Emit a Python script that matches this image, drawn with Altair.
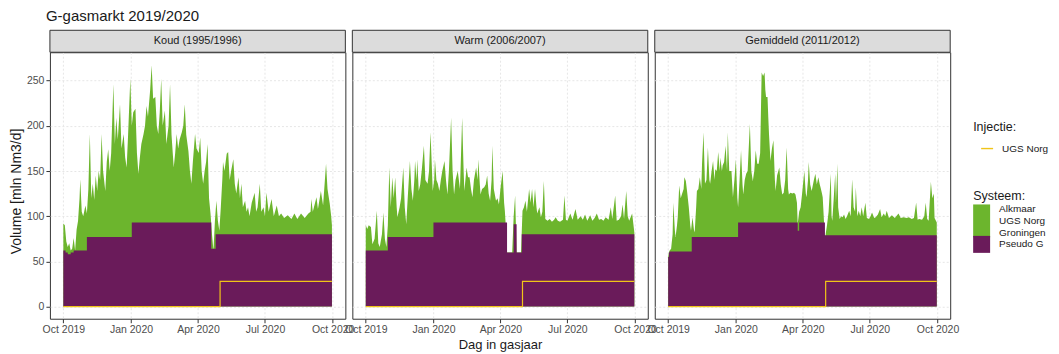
import altair as alt
import pandas as pd

START = pd.Timestamp("2019-10-01")

SCENARIOS = ["Koud (1995/1996)", "Warm (2006/2007)", "Gemiddeld (2011/2012)"]
SYS_GREEN = "Alkmaar UGS Norg Groningen"
SYS_PURPLE = "Pseudo G"
INJ_NAME = "UGS Norg"

GREEN = "#6cb52d"
PURPLE = "#6a1b5a"
YELLOW = "#f0c419"

# (day in gasjaar, volume mln Nm3/d) -- total of all systems (top of green)
KOUD_TOTAL = [
    (0, 92), (2, 90), (4, 72), (6, 66), (8, 70), (10, 62), (12, 64), (14, 76), (16, 62), (18, 85),
    (20, 95), (22, 120), (23, 141), (25, 105), (27, 100), (30, 112), (32, 103), (34, 130), (36, 191),
    (38, 120), (40, 136), (42, 118), (44, 145), (46, 128), (48, 150), (50, 140), (52, 191), (54, 150),
    (57, 128), (59, 160), (61, 174), (63, 150), (65, 170), (68, 246), (70, 180), (72, 209), (74, 185),
    (77, 224), (79, 175), (82, 191), (84, 165), (86, 154), (88, 190), (91, 252), (93, 200), (95, 215),
    (98, 219), (100, 170), (102, 147), (104, 165), (106, 180), (109, 191), (111, 200), (113, 222),
    (115, 210), (118, 240), (120, 267), (122, 230), (125, 232), (127, 200), (129, 191), (131, 215),
    (133, 252), (135, 200), (138, 217), (140, 180), (143, 200), (145, 246), (147, 190), (150, 154),
    (152, 170), (154, 191), (156, 175), (158, 185), (161, 193), (163, 200), (165, 224), (167, 190),
    (170, 172), (172, 150), (174, 136), (176, 160), (179, 191), (181, 175), (184, 170), (186, 187),
    (188, 150), (190, 136), (192, 150), (194, 160), (196, 180), (198, 120), (200, 103), (202, 80),
    (204, 62), (206, 95), (208, 117), (210, 95), (212, 84), (214, 110), (216, 140), (217, 160),
    (219, 150), (222, 169), (224, 171), (226, 140), (228, 150), (231, 163), (233, 136), (235, 125),
    (238, 143), (240, 120), (242, 136), (244, 110), (247, 117), (249, 105), (251, 110), (253, 100),
    (256, 115), (260, 126), (262, 105), (264, 110), (267, 136), (269, 105), (272, 110), (274, 100),
    (276, 126), (279, 105), (283, 119), (286, 100), (290, 112), (293, 100), (296, 103), (300, 98),
    (305, 101), (310, 97), (314, 103), (318, 97), (323, 103), (328, 98), (333, 103), (336, 105),
    (337, 119), (339, 105), (344, 121), (346, 108), (350, 128), (353, 112), (357, 158), (359, 130),
    (362, 114), (364, 100), (365, 90),
]
KOUD_PSEUDO = [(0, 62), (3, 60), (6, 58), (10, 60), (14, 62), (32, 77), (93, 93), (201, 64), (207, 80), (365, 80)]
KOUD_INJ = [(0, 0), (213, 28), (365, 28)]

WARM_TOTAL = [
    (0, 90), (2, 86), (4, 90), (7, 88), (9, 69), (12, 75), (15, 106), (17, 70), (19, 66), (22, 80),
    (24, 104), (26, 75), (28, 66), (30, 90), (32, 154), (34, 110), (36, 143), (38, 120), (40, 143),
    (42, 110), (43, 99), (46, 110), (48, 120), (51, 154), (53, 110), (55, 91), (57, 120), (60, 161),
    (62, 130), (64, 117), (66, 140), (67, 161), (69, 140), (70, 163), (72, 128), (74, 135), (76, 150),
    (79, 178), (81, 140), (84, 136), (86, 150), (88, 193), (90, 150), (91, 128), (93, 140), (94, 163),
    (96, 140), (98, 136), (100, 128), (102, 140), (104, 150), (107, 161), (109, 140), (111, 124),
    (113, 150), (116, 209), (118, 150), (120, 124), (122, 140), (125, 150), (128, 130), (131, 209),
    (133, 150), (134, 128), (137, 154), (139, 143), (141, 143), (143, 130), (145, 121), (147, 140),
    (150, 154), (152, 140), (153, 163), (155, 135), (156, 124), (158, 130), (161, 132), (163, 135),
    (165, 145), (167, 125), (169, 117), (171, 140), (172, 178), (174, 130), (177, 117), (179, 120),
    (181, 113), (183, 130), (186, 150), (188, 115), (189, 106), (191, 80), (192, 60), (199, 60),
    (201, 100), (203, 123), (205, 60), (211, 60), (213, 106), (215, 110), (217, 117), (219, 105),
    (222, 130), (224, 115), (226, 130), (228, 110), (230, 130), (232, 110), (233, 103), (236, 110),
    (238, 99), (240, 105), (242, 139), (244, 97), (247, 95), (250, 97), (253, 94), (256, 96),
    (258, 99), (261, 95), (264, 94), (268, 96), (270, 123), (272, 96), (274, 95), (278, 103),
    (281, 96), (285, 108), (288, 96), (292, 100), (295, 96), (298, 102), (301, 95), (305, 101),
    (308, 95), (311, 98), (314, 103), (317, 96), (320, 97), (323, 95), (326, 99), (330, 96),
    (333, 110), (335, 97), (339, 123), (341, 95), (344, 96), (347, 100), (349, 113), (351, 97),
    (354, 128), (356, 100), (358, 95), (362, 103), (365, 82),
]
WARM_PSEUDO = [(0, 62), (30, 77), (92, 93), (192, 60), (201, 91), (205, 60), (212, 80), (365, 80)]
WARM_INJ = [(0, 0), (213, 28), (365, 28)]

GEM_TOTAL = [
    (0, 55), (1, 60), (2, 62), (4, 64), (6, 80), (7, 115), (9, 85), (10, 77), (12, 90), (13, 99),
    (15, 134), (17, 120), (19, 125), (21, 130), (22, 143), (24, 139), (26, 125), (28, 110), (30, 90),
    (31, 84), (33, 99), (35, 85), (36, 82), (38, 110), (39, 128), (41, 130), (43, 143), (45, 130),
    (46, 158), (48, 193), (50, 136), (52, 140), (54, 176), (56, 140), (57, 136), (59, 150), (61, 161),
    (63, 140), (64, 152), (66, 150), (68, 171), (70, 150), (71, 165), (73, 150), (74, 156), (76, 160),
    (78, 178), (80, 150), (81, 193), (83, 150), (86, 150), (88, 121), (90, 140), (92, 163), (94, 120),
    (95, 110), (97, 140), (99, 173), (101, 135), (102, 124), (104, 140), (106, 147), (108, 150),
    (111, 202), (113, 150), (115, 139), (117, 150), (119, 173), (121, 158), (123, 158), (125, 170),
    (127, 259), (129, 255), (131, 259), (132, 240), (133, 232), (135, 232), (136, 210), (137, 191),
    (139, 161), (141, 175), (143, 184), (145, 140), (146, 128), (148, 145), (151, 154), (153, 135),
    (155, 124), (157, 126), (159, 140), (161, 176), (163, 130), (164, 124), (166, 126), (169, 125),
    (171, 126), (173, 124), (175, 115), (176, 91), (178, 105), (180, 110), (182, 125), (185, 150),
    (187, 125), (188, 121), (190, 140), (191, 160), (193, 135), (195, 128), (198, 140), (200, 147),
    (202, 135), (204, 143), (206, 135), (207, 132), (209, 125), (210, 121), (212, 90), (213, 66),
    (214, 80), (216, 91), (218, 105), (221, 147), (222, 100), (223, 95), (225, 120), (227, 147),
    (228, 115), (230, 158), (231, 110), (233, 97), (235, 100), (237, 99), (239, 102), (241, 97),
    (243, 100), (246, 106), (248, 100), (250, 141), (252, 110), (254, 105), (255, 132), (257, 100),
    (259, 106), (261, 100), (263, 110), (265, 100), (268, 115), (270, 98), (273, 97), (275, 100),
    (277, 104), (280, 98), (282, 99), (285, 102), (288, 108), (290, 99), (293, 103), (295, 100),
    (297, 106), (300, 98), (304, 101), (308, 98), (313, 103), (316, 98), (320, 99), (324, 98),
    (327, 99), (331, 97), (334, 98), (337, 115), (339, 96), (341, 97), (345, 96), (348, 100),
    (350, 115), (352, 97), (354, 95), (357, 138), (359, 120), (361, 125), (362, 98), (365, 93),
]
GEM_PSEUDO = [(0, 55), (1, 60), (2, 61), (32, 77), (95, 93), (176, 84), (178, 93), (213, 79), (365, 79)]
GEM_INJ = [(0, 0), (214, 28), (365, 28)]

TOTALS = [KOUD_TOTAL, WARM_TOTAL, GEM_TOTAL]
PSEUDOS = [KOUD_PSEUDO, WARM_PSEUDO, GEM_PSEUDO]
INJS = [KOUD_INJ, WARM_INJ, GEM_INJ]

Y_TICKS = [0, 50, 100, 150, 200, 250]

PANEL_W = 296
PANEL_H = 267
STRIP_H = 22


def to_df(pairs, series):
    df = pd.DataFrame(pairs, columns=["day", "value"])
    df["date"] = START + pd.to_timedelta(df["day"], unit="D")
    df["series"] = series
    return df[["date", "value", "series"]]


x_ticks = [
    alt.DateTime(year=2019, month=10, date=1),
    alt.DateTime(year=2020, month=1, date=1),
    alt.DateTime(year=2020, month=4, date=1),
    alt.DateTime(year=2020, month=7, date=1),
    alt.DateTime(year=2020, month=10, date=1),
]
x_scale = alt.Scale(
    domain=[
        alt.DateTime(year=2019, month=9, date=12, hours=18),
        alt.DateTime(year=2020, month=10, date=18, hours=6),
    ],
    nice=False,
)
y_scale = alt.Scale(domain=[-13.4, 281.4], nice=False, zero=False)

green_scale = alt.Scale(domain=[SYS_GREEN], range=[GREEN])
purple_scale = alt.Scale(domain=[SYS_PURPLE], range=[PURPLE])
stroke_scale = alt.Scale(domain=[INJ_NAME], range=[YELLOW])

LEG_X = 925
TALL_BOX = "M-1.7,-1.0L1.7,-1.0L1.7,5.6L-1.7,5.6Z"

common = dict(
    orient="none",
    legendX=LEG_X,
    labelFontSize=10,
    labelColor="#1a1a1a",
    titleFontSize=12.5,
    titleFontWeight="normal",
    titleColor="#1a1a1a",
)

inj_legend = alt.Legend(
    title="Injectie:",
    legendY=69,
    symbolType="stroke",
    symbolSize=144,
    symbolStrokeWidth=1.4,
    symbolOffset=7,
    labelOffset=8,
    titlePadding=8,
    **common,
)
green_legend = alt.Legend(
    title="Systeem:",
    legendY=138,
    symbolType=TALL_BOX,
    symbolSize=100,
    symbolStrokeWidth=0,
    symbolOpacity=1,
    symbolOffset=3.5,
    labelOffset=12.5,
    labelExpr="['Alkmaar', 'UGS Norg', 'Groningen']",
    titlePadding=2,
    **common,
)
purple_legend = alt.Legend(
    title=None,
    legendY=184,
    symbolType="square",
    symbolSize=289,
    symbolStrokeWidth=0,
    symbolOpacity=1,
    labelOffset=9,
    **common,
)


def make_panel(i):
    x_axis = alt.Axis(
        values=x_ticks,
        format="%b %Y",
        labelFlush=False,
        labelOverlap=False,
        title="Dag in gasjaar" if i == 1 else None,
        grid=True,
        gridColor="#e6e6e6",
        gridDash=[2, 2],
        tickColor="#333333",
        tickSize=4,
        domain=False,
        labelColor="#4d4d4d",
        labelFontSize=10.5,
        labelPadding=2,
        titleFontSize=13,
        titleFontWeight="normal",
        titleColor="#1a1a1a",
        titlePadding=3,
    )
    if i == 0:
        y_axis = alt.Axis(
            values=Y_TICKS,
            title="Volume [mln Nm3/d]",
            grid=True,
            gridColor="#e6e6e6",
            gridDash=[2, 2],
            tickColor="#333333",
            tickSize=4,
            domain=False,
            labelColor="#4d4d4d",
            labelFontSize=10.5,
            labelPadding=2,
            titleFontSize=14,
            titleFontWeight="normal",
            titleColor="#1a1a1a",
            titlePadding=3,
            titleY=139,
        )
    else:
        y_axis = alt.Axis(
            values=Y_TICKS,
            title=None,
            labels=False,
            ticks=False,
            domain=False,
            grid=True,
            gridColor="#e6e6e6",
            gridDash=[2, 2],
        )

    x = alt.X("date:T", scale=x_scale, axis=x_axis)
    y = alt.Y("value:Q", scale=y_scale, axis=y_axis)

    label_df = pd.DataFrame({"label": [SCENARIOS[i]]})
    strip_box = alt.Chart(label_df).mark_rect(
        fill="#dcdcdc", stroke="#333333", strokeWidth=1
    ).encode(
        x=alt.value(0), x2=alt.value(PANEL_W), y=alt.value(-STRIP_H), y2=alt.value(0)
    )
    strip_text = alt.Chart(label_df).mark_text(
        fontSize=11, color="#1a1a1a", baseline="middle", align="center"
    ).encode(
        text="label:N", x=alt.value(PANEL_W / 2), y=alt.value(-STRIP_H / 2)
    )

    green = alt.Chart(to_df(TOTALS[i], SYS_GREEN)).mark_area(interpolate="linear", opacity=1).encode(
        x=x, y=y, y2=alt.datum(0),
        fill=alt.Fill("series:N", scale=green_scale, legend=green_legend),
    )
    purple = alt.Chart(to_df(PSEUDOS[i], SYS_PURPLE)).mark_area(interpolate="step-after", opacity=1).encode(
        x=x, y=y, y2=alt.datum(0),
        color=alt.Color("series:N", scale=purple_scale, legend=purple_legend),
    )
    line = alt.Chart(to_df(INJS[i], INJ_NAME)).mark_line(interpolate="step-after", strokeWidth=1.2).encode(
        x=x, y=y,
        stroke=alt.Stroke("series:N", scale=stroke_scale, legend=inj_legend),
    )
    return alt.layer(green, purple, line, strip_box, strip_text).properties(
        width=PANEL_W, height=PANEL_H
    )


chart = alt.hconcat(
    make_panel(0), make_panel(1), make_panel(2), spacing=7, bounds="flush"
).properties(
    title=alt.Title(
        "G-gasmarkt 2019/2020",
        anchor="start",
        frame="group",
        fontSize=15,
        fontWeight="normal",
        color="#1a1a1a",
        dx=-4,
        offset=5,
    ),
    padding={"left": 0, "top": 1, "right": 2, "bottom": 0},
).configure(
    font="Liberation Sans"
).configure_view(
    stroke="#333333", strokeWidth=1
).resolve_scale(fill="shared", color="shared", stroke="shared")

chart.save("out.html", embed_options={"renderer": "svg", "actions": False})
